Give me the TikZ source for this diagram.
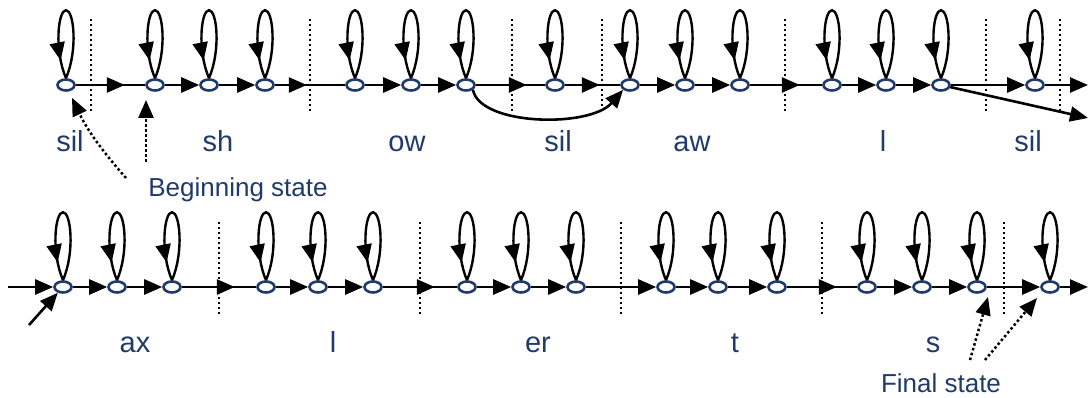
\documentclass[tikz,border=0pt]{standalone}
\usepackage{fontspec}
\setmainfont{Liberation Sans}
\usetikzlibrary{arrows.meta,calc,decorations.markings,shapes.geometric}
\definecolor{stateblue}{RGB}{31,58,107}
\tikzstyle{state}=[ellipse,draw=stateblue,fill=white,line width=2.6pt,minimum width=17pt,minimum height=11pt,inner sep=0pt]
\tikzstyle{trans}=[line width=2.6pt]
\tikzstyle{tip}=[-{Triangle[length=18pt,width=15pt]}]
\tikzstyle{midarrow}=[postaction={decorate},decoration={markings,mark=at position #1 with {\arrow{Triangle[length=18pt,width=15pt]}}}]
\tikzstyle{loopline}=[line width=2.4pt,midarrow=0.87]
\tikzstyle{divider}=[line width=2.5pt,dash pattern=on 2.5pt off 2.5pt]
\tikzstyle{pointer}=[line width=2.5pt,dash pattern=on 2.5pt off 2.5pt,-{Triangle[length=18pt,width=15pt]}]
\tikzstyle{phone}=[anchor=base,text=stateblue,font=\fontsize{29}{32}\selectfont]
\tikzstyle{caption}=[anchor=base,text=stateblue,font=\fontsize{26}{30}\selectfont]
\newcommand{\selfloop}[1]{% loop drawn above a state
  \draw[loopline] (#1.north) .. controls ($(#1.north)+(12,28)$) and ($(#1.north)+(8,68)$) .. ($(#1.north)+(0,68)$)
    .. controls ($(#1.north)+(-8,68)$) and ($(#1.north)+(-12,28)$) .. (#1.north);
}
\begin{document}
\begin{tikzpicture}[x=1pt,y=1pt]
\useasboundingbox (0,0) rectangle (1089,398);
% segment boundaries
\foreach \x in {91,310,512,602,785,986,1060}
  \draw[divider] (\x,379) -- (\x,286);
\foreach \x in {219,420,621,822,1004}
  \draw[divider] (\x,176) -- (\x,83);
% states
\foreach \x [count=\i] in {66,155,209,265,355,411,466,555,630,685,740,832,886,941,1035}
  \node[state] (t\i) at (\x,313) {};
\foreach \x [count=\i] in {63,117,172,266,318,373,467,521,576,666,718,777,867,922,977,1050}
  \node[state] (b\i) at (\x,111) {};
\foreach \i in {1,...,15} {\selfloop{t\i}}
\foreach \i in {1,...,16} {\selfloop{b\i}}
% transitions, top row
\foreach \a/\b/\d in {1/2/49pt,4/5/32pt,7/8/51pt,8/9/35pt,11/12/50pt}
  \draw[trans,midarrow=\d] (t\a) -- (t\b);
\foreach \a/\b in {2/3,3/4,5/6,6/7,9/10,10/11,12/13,13/14,14/15}
  \draw[trans,tip] (t\a) -- (t\b);
\coordinate (tout) at (1088,313);
\coordinate (tskip) at (1088,280);
\draw[trans,tip] (t15) -- (tout);
\draw[trans,tip] (t14) -- (tskip);
\draw[trans,tip] (t7.south east) .. controls (480,272) and (590,270) .. (t9.south west);
% transitions, bottom row
\coordinate (bin) at (8,111);
\coordinate (bentry) at (29,73);
\coordinate (bout) at (1088,111);
\draw[trans,tip] (bin) -- (b1);
\draw[trans,tip] (bentry) -- (b1);
\foreach \a/\b/\d in {3/4/53pt,6/7/52pt,12/13/50pt}
  \draw[trans,midarrow=\d] (b\a) -- (b\b);
\foreach \a/\b in {1/2,2/3,4/5,5/6,7/8,8/9,9/10,10/11,11/12,13/14,14/15,15/16}
  \draw[trans,tip] (b\a) -- (b\b);
\draw[trans,tip] (b16) -- (bout);
% phone labels
\foreach \x/\t [count=\i] in {70/sil,218/sh,407/ow,558/sil,692/aw,883/l,1028/sil}
  \node[phone] (tl\i) at (\x,246) {\t};
\foreach \x/\t [count=\i] in {135/ax,333/l,538/er,735/t,933/s}
  \node[phone] (bl\i) at (\x,45) {\t};
% beginning and final state
\node[caption] (beginlbl) at (238,201) {Beginning state};
\node[caption] (finallbl) at (941,5) {Final state};
\coordinate (bs1) at (126,220);
\coordinate (bs2) at (146,236);
\coordinate (bs2end) at (146,298);
\draw[pointer,shorten >=7pt] (bs1) to[bend left=8] (t1);
\draw[pointer] (bs2) -- (bs2end);
\coordinate (fs1) at (970,38);
\coordinate (fs1end) at (988,101);
\coordinate (fs2) at (985,38);
\coordinate (fs2end) at (1037,100);
\draw[pointer] (fs1) -- (fs1end);
\draw[pointer] (fs2) -- (fs2end);
\end{tikzpicture}
\end{document}
